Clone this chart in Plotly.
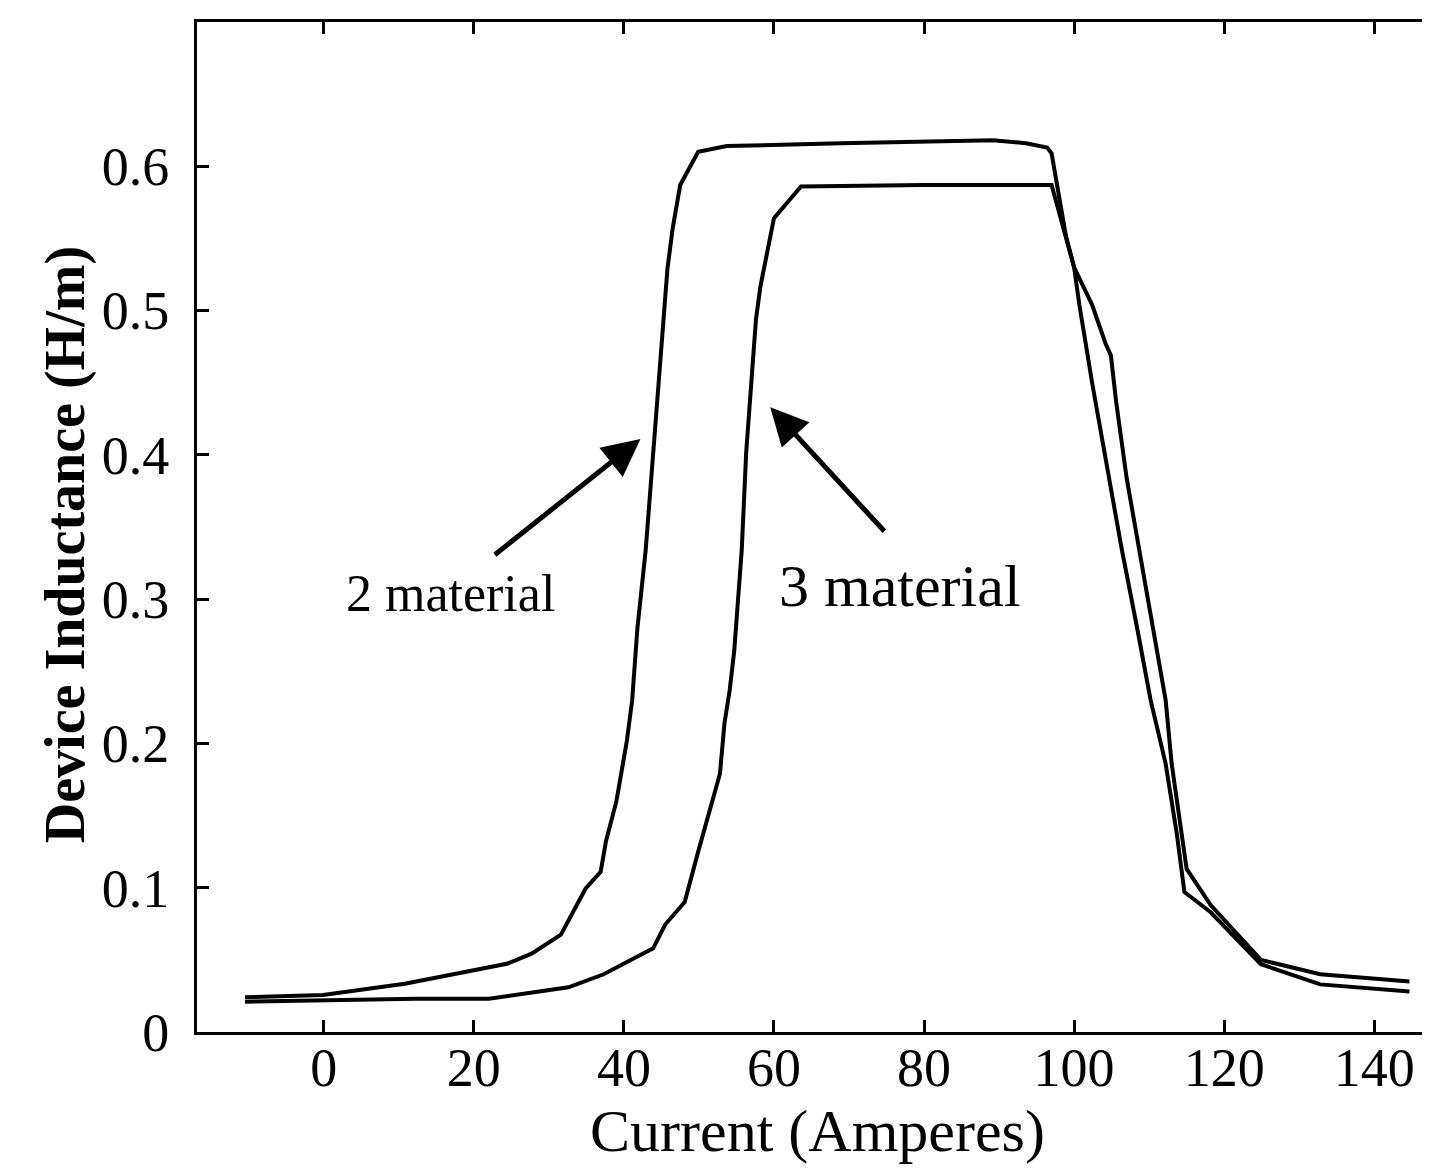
import plotly.graph_objects as go

# ---- data ----
current_2mat = [-10.5, -0.1, 10.8, 20.6, 24.4, 27.7, 31.6, 34.9, 36.9, 37.6, 39.0, 40.4,
                41.1, 41.8, 42.9, 43.9, 44.6, 45.2, 45.8, 46.5, 47.5, 49.9, 53.7, 68.9,
                89.2, 93.6, 96.4, 97.0, 98.9, 100.0, 100.7, 102.4, 104.2, 106.3, 108.4,
                110.2, 112.2, 113.7, 114.7, 118.2, 124.9, 132.8, 144.7]
induct_2mat = [0.024, 0.0257, 0.0334, 0.0431, 0.0473, 0.0543, 0.0675, 0.0995, 0.111, 0.132,
               0.160, 0.202, 0.230, 0.280, 0.334, 0.401, 0.447, 0.494, 0.529, 0.557, 0.587,
               0.610, 0.614, 0.616, 0.618, 0.616, 0.613, 0.609, 0.552, 0.530, 0.504, 0.450,
               0.397, 0.336, 0.280, 0.230, 0.186, 0.137, 0.097, 0.083, 0.047, 0.033, 0.028]

current_3mat = [-10.5, 12.3, 22.0, 26.9, 32.6, 37.3, 41.0, 43.9, 45.5, 48.1, 49.9, 51.1,
                52.8, 53.4, 54.1, 54.7, 55.7, 56.3, 57.0, 57.6, 58.2, 59.1, 60.0, 63.6,
                80.0, 97.0, 98.9, 100.0, 102.4, 104.2, 104.9, 105.6, 107.0, 108.7, 110.5,
                112.2, 113.0, 114.3, 115.0, 118.2, 124.9, 132.8, 144.7]
induct_3mat = [0.021, 0.023, 0.023, 0.0264, 0.031, 0.040, 0.050, 0.058, 0.0745, 0.090,
               0.125, 0.148, 0.179, 0.214, 0.237, 0.264, 0.334, 0.402, 0.447, 0.494, 0.517,
               0.541, 0.564, 0.586, 0.587, 0.587, 0.552, 0.530, 0.504, 0.477, 0.469, 0.437,
               0.384, 0.334, 0.280, 0.230, 0.186, 0.137, 0.113, 0.088, 0.050, 0.040, 0.035]

x_ticks = [0, 20, 40, 60, 80, 100, 120, 140]
y_ticks = [0, 0.1, 0.2, 0.3, 0.4, 0.5, 0.6]

label_2 = "2 material"
label_3 = "3 material"
y_title = "Device Inductance (H/m)"
x_title = "Current (Amperes)"

FONT = "Liberation Serif"

fig = go.Figure()
fig.add_trace(go.Scatter(x=current_2mat, y=induct_2mat, mode="lines",
                         line=dict(color="black", width=4), name=label_2,
                         showlegend=False))
fig.add_trace(go.Scatter(x=current_3mat, y=induct_3mat, mode="lines",
                         line=dict(color="black", width=4), name=label_3,
                         showlegend=False))

# arrows + labels
fig.add_annotation(x=42.2, y=0.411, ax=22.6, ay=0.330, xref="x", yref="y",
                   axref="x", ayref="y", showarrow=True, arrowhead=2,
                   arrowsize=1.5, arrowwidth=5, arrowcolor="black", text="")
fig.add_annotation(x=59.5, y=0.433, ax=74.9, ay=0.346, xref="x", yref="y",
                   axref="x", ayref="y", showarrow=True, arrowhead=2,
                   arrowsize=1.5, arrowwidth=5, arrowcolor="black", text="")
fig.add_annotation(x=16.9, y=0.304, xref="x", yref="y", text=label_2,
                   showarrow=False, font=dict(family=FONT, size=52, color="black"))
fig.add_annotation(x=76.8, y=0.309, xref="x", yref="y", text=label_3,
                   showarrow=False, font=dict(family=FONT, size=60, color="black"))

# y-axis title as rotated text placed beside the tick labels
fig.add_annotation(x=0, y=0.482, xref="paper", yref="paper", xanchor="center",
                   yanchor="middle", xshift=-132, textangle=-90, showarrow=False,
                   text="<b>" + y_title + "</b>",
                   font=dict(family=FONT, size=56, color="black"))

fig.update_layout(
    width=1430, height=1170,
    margin=dict(l=189, r=0, t=14, b=146),
    paper_bgcolor="white", plot_bgcolor="white",
    font=dict(family=FONT, color="black"),
)
fig.update_xaxes(
    range=[-16.9, 148.5], tickvals=x_ticks, ticktext=[str(v) for v in x_ticks],
    showline=True, linecolor="black", linewidth=3, mirror="ticks",
    ticks="inside", ticklen=12, tickwidth=3, tickcolor="black",
    showgrid=False, zeroline=False, automargin=False,
    tickfont=dict(family=FONT, size=54, color="black"), ticklabelstandoff=-14,
    title=dict(text=x_title, font=dict(family=FONT, size=60, color="black"),
               standoff=4),
)
fig.update_yaxes(
    range=[0, 0.70], tickvals=y_ticks, ticktext=["0", "0.1", "0.2", "0.3", "0.4", "0.5", "0.6"],
    showline=True, linecolor="black", linewidth=3, mirror=False,
    ticks="inside", ticklen=12, tickwidth=3, tickcolor="black",
    showgrid=False, zeroline=False, automargin=False,
    tickfont=dict(family=FONT, size=54, color="black"), ticklabelstandoff=14,
)

fig.write_html("out.html")
